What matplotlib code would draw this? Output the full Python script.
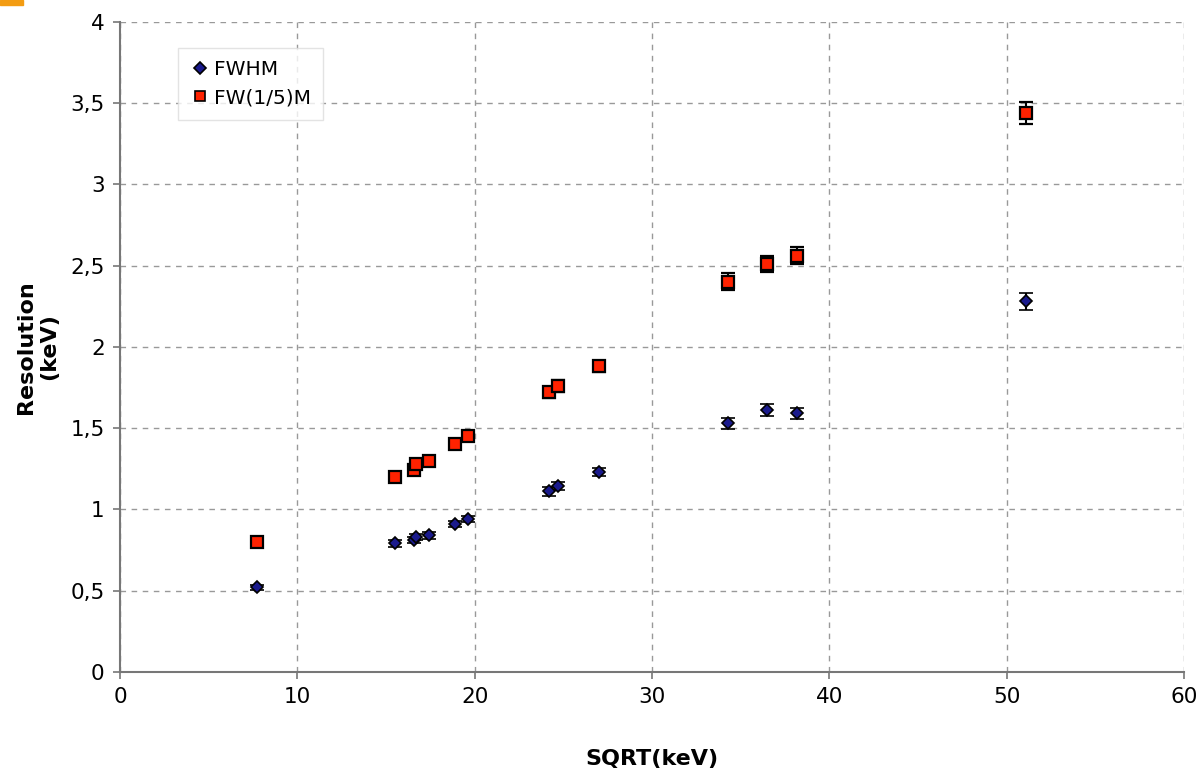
import numpy as np
import matplotlib.pyplot as plt
from matplotlib.patches import Rectangle
from matplotlib.lines import Line2D
from matplotlib.ticker import FuncFormatter

sqrt_kev = [7.7, 15.5, 16.6, 16.7, 17.4, 18.9, 19.6, 24.2, 24.7, 27.0, 34.3, 36.5, 38.2, 51.1]
fwhm = [0.52, 0.79, 0.81, 0.83, 0.84, 0.91, 0.94, 1.11, 1.145, 1.23, 1.53, 1.61, 1.59, 2.28]
fwhm_err = [0.015, 0.02, 0.02, 0.02, 0.02, 0.02, 0.02, 0.025, 0.025, 0.025, 0.035, 0.037, 0.035, 0.05]
fw15m = [0.80, 1.20, 1.24, 1.28, 1.30, 1.40, 1.45, 1.72, 1.76, 1.88, 2.40, 2.51, 2.56, 3.44]
fw15m_err = [0.025, 0.03, 0.03, 0.03, 0.03, 0.03, 0.03, 0.035, 0.035, 0.035, 0.052, 0.052, 0.052, 0.068]

fig = plt.figure(figsize=(12.02, 7.73), dpi=100)
ax = fig.add_axes([0.0998, 0.131, 0.8852, 0.8405])

ax.errorbar(sqrt_kev, fw15m, yerr=fw15m_err, fmt="s", ms=8.5, mfc="#ff2200", mec="black",
            mew=1.6, ecolor="black", elinewidth=1.5, capsize=4.7, capthick=1.6, zorder=3)
ax.errorbar(sqrt_kev, fwhm, yerr=fwhm_err, fmt="D", ms=6.5, mfc="#1a1a8c", mec="black",
            mew=1.2, ecolor="black", elinewidth=1.5, capsize=4.7, capthick=1.6, zorder=3)

ax.set_xlim(0, 60)
ax.set_ylim(0, 4)
ax.set_xticks(np.arange(0, 61, 10))
ax.set_yticks(np.arange(0, 4.01, 0.5))
ax.yaxis.set_major_formatter(FuncFormatter(lambda v, p: f"{v:g}".replace(".", ",")))
ax.grid(True, color="#999999", linestyle=(0, (4, 4)), linewidth=1)
ax.set_axisbelow(True)
for s in ["top", "right"]:
    ax.spines[s].set_visible(False)
ax.spines["left"].set_color("#777777")
ax.spines["bottom"].set_color("#777777")
ax.spines["left"].set_linewidth(1.5)
ax.spines["bottom"].set_linewidth(1.5)
ax.tick_params(labelsize=15.5, colors="#777777", labelcolor="black", length=5, width=1.2, pad=6)

ax.set_xlabel("SQRT(keV)", fontsize=16, fontweight="bold", labelpad=30)
ax.set_ylabel("Resolution\n(keV)", fontsize=16, fontweight="bold", labelpad=8)

handles = [
    Line2D([], [], ls="none", marker="D", ms=6, mfc="#1a1a8c", mec="black", mew=1.2),
    Line2D([], [], ls="none", marker="s", ms=7, mfc="#ff2200", mec="black", mew=1.2),
]
ax.legend(handles, ["FWHM", "FW(1/5)M"], loc="upper left", bbox_to_anchor=(0.045, 0.975),
          fontsize=14.5, frameon=True, fancybox=False, edgecolor="#dddddd",
          handletextpad=0.2, handlelength=1.0, borderpad=0.6, labelspacing=0.45)

fig.patches.append(Rectangle((0, 0.994), 0.019, 0.006, transform=fig.transFigure,
                             color="#f39c12", zorder=5))

fig.savefig("out.png", dpi=100)
